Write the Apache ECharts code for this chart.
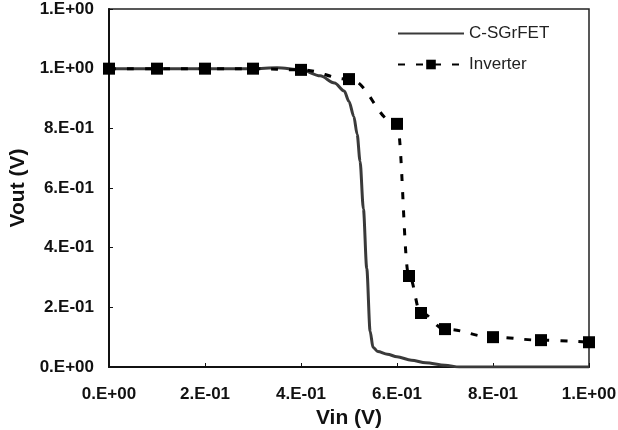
<!DOCTYPE html>
<html>
<head>
<meta charset="utf-8">
<script src="https://cdn.jsdelivr.net/npm/echarts@6/dist/echarts.min.js"></script>
<style>
  html, body { margin: 0; padding: 0; background: #fff; }
  #main { width: 618px; height: 430px; }
</style>
</head>
<body>
<div id="main"></div>
<script>
// C-SGrFET transfer curve (Vin, Vout)
var fetVin  = [0, 0.1, 0.2, 0.3, 0.35, 0.4, 0.44, 0.47, 0.49, 0.5, 0.51, 0.517, 0.523, 0.53, 0.537, 0.544, 0.55, 0.56, 0.58, 0.6, 0.63, 0.66, 0.7, 0.73, 0.8, 0.9, 1.0];
var fetVout = [1.0, 1.0, 1.0, 1.0, 1.003, 0.996, 0.976, 0.952, 0.925, 0.89, 0.84, 0.78, 0.69, 0.53, 0.33, 0.12, 0.066, 0.052, 0.043, 0.034, 0.023, 0.014, 0.006, 0.0, 0.0, 0.0, 0.0];

// Inverter points
var invVin  = [0, 0.1, 0.2, 0.3, 0.4, 0.5, 0.6, 0.625, 0.65, 0.7, 0.8, 0.9, 1.0];
var invVout = [1.0, 1.0, 1.0, 1.0, 0.996, 0.965, 0.815, 0.305, 0.181, 0.127, 0.1, 0.09, 0.083];

var seriesNames = ['C-SGrFET', 'Inverter'];

function pairs(xs, ys) {
    var out = [];
    for (var i = 0; i < xs.length; i++) out.push([xs[i], ys[i]]);
    return out;
}

// Excel style "0.E+00"
function sci(v) {
    if (Math.abs(v) < 1e-12) return '0.E+00';
    var e = Math.floor(Math.log10(Math.abs(v)) + 1e-9);
    var m = Math.round(v / Math.pow(10, e));
    if (m >= 10) { m = 1; e++; }
    var a = Math.abs(e);
    return m + '.E' + (e < 0 ? '-' : '+') + (a < 10 ? '0' : '') + a;
}

var myChart = echarts.init(document.getElementById('main'));
var labelFont = {
    fontFamily: 'Liberation Sans, Arial, sans-serif',
    fontWeight: 'bold',
    fontSize: 17,
    color: '#111'
};
var nameFont = {
    fontFamily: 'Liberation Sans, Arial, sans-serif',
    fontWeight: 'bold',
    fontSize: 21,
    color: '#111'
};
var option = {
    animation: false,
    grid: {
        left: 109,
        right: 29,
        top: 9,
        bottom: 63,
        outerBoundsMode: 'none',
        show: true,
        borderColor: '#222',
        borderWidth: 1.5
    },
    legend: {
        left: 392,
        top: 20,
        orient: 'vertical',
        itemWidth: 66,
        itemHeight: 12,
        itemGap: 14,
        data: [
            { name: seriesNames[0], itemStyle: { opacity: 0 } },
            { name: seriesNames[1] }
        ],
        textStyle: {
            fontFamily: 'Liberation Sans, Arial, sans-serif',
            fontSize: 17,
            color: '#222'
        }
    },
    xAxis: {
        type: 'value',
        min: 0,
        max: 1,
        interval: 0.2,
        name: 'Vin (V)',
        nameLocation: 'middle',
        nameGap: 36,
        nameTextStyle: nameFont,
        axisLine: { lineStyle: { color: '#111', width: 2 } },
        axisTick: { inside: true, length: 4, lineStyle: { color: '#111' } },
        axisLabel: Object.assign({ margin: 19, formatter: sci }, labelFont),
        splitLine: { show: false }
    },
    yAxis: {
        type: 'value',
        min: 0,
        max: 1.2,
        interval: 0.2,
        name: 'Vout (V)',
        nameLocation: 'middle',
        nameGap: 68,
        nameTextStyle: nameFont,
        axisLine: { show: true, lineStyle: { color: '#111', width: 2 } },
        axisTick: { show: true, inside: true, length: 4, lineStyle: { color: '#111' } },
        axisLabel: Object.assign({ margin: 15, formatter: sci }, labelFont),
        splitLine: { show: false }
    },
    series: [
        {
            name: seriesNames[0],
            type: 'line',
            data: pairs(fetVin, fetVout),
            showSymbol: false,
            symbol: 'none',
            smooth: 0.3,
            smoothMonotone: 'x',
            lineStyle: { color: '#3a3a3a', width: 3 },
            itemStyle: { color: '#3a3a3a' },
            z: 2
        },
        {
            name: seriesNames[1],
            type: 'line',
            data: pairs(invVin, invVout),
            symbol: 'rect',
            symbolSize: 12,
            smooth: 0.4,
            smoothMonotone: 'x',
            lineStyle: { color: '#000', width: 3, type: [7, 11] },
            itemStyle: { color: '#000' },
            z: 3
        }
    ]
};
myChart.setOption(option);
</script>
</body>
</html>
